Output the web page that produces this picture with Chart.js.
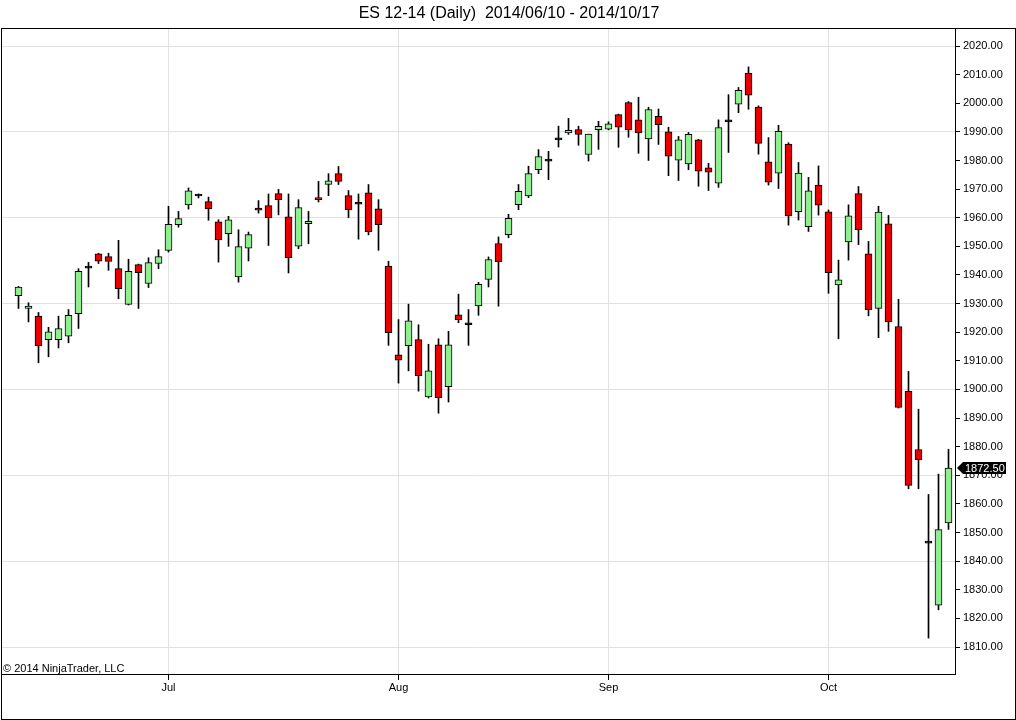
<!DOCTYPE html>
<html>
<head>
<meta charset="utf-8">
<title>ES 12-14 (Daily)</title>
<script src="https://cdn.jsdelivr.net/npm/chart.js@4/dist/chart.umd.min.js"></script>
<style>
  html, body { margin: 0; padding: 0; background: #fff; }
  #wrap { width: 1016px; height: 720px; position: relative; }
</style>
</head>
<body>
<div id="wrap"><canvas id="esChart"></canvas></div>
<script>
/* ==============================
   DATA
============================== */
const dates = [
    '06/10','06/11','06/12','06/13','06/16','06/17','06/18','06/19','06/20','06/23','06/24','06/25','06/26','06/27','06/30',
    '07/01','07/02','07/03','07/04','07/07','07/08','07/09','07/10','07/11','07/14','07/15','07/16','07/17','07/18','07/21','07/22','07/23','07/24','07/25','07/28','07/29','07/30','07/31',
    '08/01','08/04','08/05','08/06','08/07','08/08','08/11','08/12','08/13','08/14','08/15','08/18','08/19','08/20','08/21','08/22','08/25','08/26','08/27','08/28','08/29',
    '09/01','09/02','09/03','09/04','09/05','09/08','09/09','09/10','09/11','09/12','09/15','09/16','09/17','09/18','09/19','09/22','09/23','09/24','09/25','09/26','09/29','09/30',
    '10/01','10/02','10/03','10/06','10/07','10/08','10/09','10/10','10/13','10/14','10/15','10/16','10/17'
];

const opens = [
    1932.8,1928.3,1925.6,1917.4,1917.4,1918.6,1926.5,1942.4,1947.4,1946.4,1942.2,1929.7,1943.6,1937,1944,
    1948.6,1957.6,1964.5,1967.6,1965.6,1958.6,1954.4,1939.3,1949.4,1963.4,1964.2,1968.4,1960.3,1950.1,1957.9,1967,1971.6,1975.4,1967.7,1964.7,1968.7,1963.1,1943.1,
    1912.1,1915.3,1917.4,1897.4,1915.6,1901,1926.1,1922.6,1929.2,1938.4,1951,1954.1,1964.6,1967.6,1976.8,1979.8,1987.2,1989.6,1990.8,1982.1,1990.8,
    1990.9,1996,2000.2,1994.2,1987.5,1995.4,1990,1980.1,1978.8,1987.2,1977.4,1972.1,1993.5,1999.7,2010.5,1998.7,1979.5,1975.6,1985.7,1962.1,1956.9,1971.4,
    1962.1,1936.5,1951.5,1968.4,1947.4,1928.3,1957.9,1922,1899.3,1879,1846.3,1824.6,1853.4
];
const highs = [
    1936,1930.3,1926.9,1921.7,1925.6,1927.9,1942.2,1944.4,1947.6,1947.6,1952.1,1945.5,1943.8,1946,1948.8,
    1964,1962.2,1970.4,1968.3,1967.2,1959.3,1960.5,1955.8,1955,1966,1968.3,1969.9,1968.3,1966.3,1962.2,1972.7,1975.4,1977.9,1969.5,1968.3,1971.6,1966.3,1944.8,
    1924.4,1929.8,1922.6,1915.8,1917.7,1920.3,1933.3,1927.9,1937.4,1946.3,1953.3,1961.2,1971.6,1978,1983.8,1983.2,1992,1994.7,1992,1989.2,1993.7,
    1993.5,1996.2,2000.6,2002.1,1998.6,1998,1991.6,1988.4,1989.8,1987.4,1979,1994.2,2003,2005.5,2012.7,1999.1,1988,1992.3,1986.2,1979.3,1974.1,1978.1,
    1962.7,1945.2,1964.5,1970.9,1951.7,1964,1960.8,1931.5,1906.3,1893.1,1863.3,1870.4,1879.1
];
const lows = [
    1928.3,1923.6,1909.3,1911.4,1914.5,1916.3,1921.3,1935.8,1944,1941.6,1931.7,1929.5,1928.3,1935.6,1942.2,
    1948,1956.7,1963,1966.9,1959.1,1944.5,1950,1937.5,1944.9,1961.6,1950.3,1961,1940.7,1949.2,1950.9,1965.5,1967.7,1971.6,1960,1952.5,1954,1948.6,1915.4,
    1902.2,1906.5,1899.4,1897,1891.7,1895.6,1923.3,1915.4,1925.9,1935.8,1929.1,1953,1962.8,1967,1975.4,1973.3,1984.7,1989.1,1985.3,1979.8,1983.9,
    1990.7,1984.6,1988.1,1982.5,1980,1985.6,1974.7,1973,1976.8,1971,1969.5,1970.6,1982.8,1996.7,1997.9,1982.2,1971.4,1970.2,1957.4,1959.2,1955.2,1960.9,
    1933.6,1917.7,1945.2,1950.6,1925.7,1918.1,1920.3,1893.5,1865.3,1865.3,1813.1,1823,1851.1
];
const closes = [
    1935.8,1929.1,1915.2,1920.1,1921.3,1925.9,1941.3,1942.4,1944.8,1944.7,1935.2,1941.3,1940.8,1944.3,1946.4,
    1957.7,1959.7,1969.4,1967.6,1963.1,1952.2,1959.3,1949.9,1954.1,1962.6,1960,1966.3,1946,1963.5,1958.7,1966.3,1972.9,1972.7,1962.8,1964.7,1955.1,1957.6,1919.8,
    1910.2,1924,1904.8,1906.5,1897.1,1915.6,1924.3,1922.6,1936.7,1945.4,1944.6,1959.8,1969.2,1975.4,1981.4,1979.8,1987.2,1990.5,1989.1,1989.2,1991.9,
    1992.8,1991.6,1990.7,1989.6,1997.8,1992.5,1981.5,1987.2,1989.1,1976.3,1975.9,1991.5,1993.5,2004.5,2002.8,1986,1972.4,1990.2,1960.6,1975.6,1969.4,1964.4,
    1940.8,1938.3,1960.7,1955.8,1927.9,1962,1923.6,1893.7,1866.5,1875.5,1846.3,1851,1872.5
];

const monthStarts = ['07/01', '08/01', '09/01', '10/01'];
const monthLabels = ['Jul', 'Aug', 'Sep', 'Oct'];
const priceTicks = [1810,1820,1830,1840,1850,1860,1870,1880,1890,1900,1910,1920,1930,1940,1950,1960,1970,1980,1990,2000,2010,2020];

/* ==============================
   STYLE
============================== */
const UP = '#90ee90';
const DOWN = '#e80000';
const GRID = '#e1e1e1';
const FONT = '"Liberation Sans", Arial, sans-serif';

Chart.defaults.font.family = FONT;
Chart.defaults.font.size = 11;
Chart.defaults.color = '#000';

const monthIdx = monthStarts.map(d => dates.indexOf(d));

/* frame, copyright and last price marker */
const ninjaFrame = {
    id: 'ninjaFrame',
    afterDraw(chart) {
        const c = chart.ctx;
        const yScale = chart.scales.y;
        c.save();
        c.strokeStyle = '#000';
        c.lineWidth = 1;
        c.strokeRect(1.5, 28.5, 1014, 691);

        c.fillStyle = '#000';
        c.font = '11px ' + FONT;
        c.textAlign = 'left';
        c.textBaseline = 'alphabetic';
        c.fillText('\u00a9 2014 NinjaTrader, LLC', 3, 672);

        const last = closes[closes.length - 1];
        const py = Math.round(yScale.getPixelForValue(last));
        const ax = chart.chartArea.right + 2;
        c.beginPath();
        c.moveTo(ax, py);
        c.lineTo(ax + 6, py - 6);
        c.lineTo(1006, py - 6);
        c.lineTo(1006, py + 6);
        c.lineTo(ax + 6, py + 6);
        c.closePath();
        c.fillStyle = '#000';
        c.fill();
        c.fillStyle = '#fff';
        c.textBaseline = 'middle';
        c.fillText(last.toFixed(2), ax + 8, py + 0.5);
        c.restore();
    }
};

function bodyColor(i) {
    if (closes[i] > opens[i]) return UP;
    if (closes[i] < opens[i]) return DOWN;
    return '#000';
}

new Chart(document.getElementById('esChart').getContext('2d'), {
    type: 'bar',
    data: {
        datasets: [{
            label: 'Body',
            data: dates.map((d, i) => ({ x: i, y: [opens[i], closes[i]] })),
            backgroundColor: dates.map((d, i) => bodyColor(i)),
            borderColor: '#000',
            borderWidth: 1,
            borderSkipped: false,
            barThickness: 7,
            minBarLength: 2,
            grouped: false,
            order: 0
        }, {
            label: 'Range',
            data: dates.map((d, i) => ({ x: i, y: [lows[i], highs[i]] })),
            backgroundColor: '#000',
            borderWidth: 0,
            barThickness: 1,
            grouped: false,
            order: 1
        }]
    },
    options: {
        responsive: true,
        maintainAspectRatio: false,
        animation: false,
        layout: { padding: { left: 2, right: 0, top: 0, bottom: 0 } },
        plugins: {
            legend: { display: false },
            tooltip: { enabled: false },
            title: {
                display: true,
                text: 'ES 12-14 (Daily)  2014/06/10 - 2014/10/17',
                color: '#000',
                font: { family: FONT, size: 16, weight: 'normal', lineHeight: 1.2 },
                padding: { top: 4, bottom: 5.8 }
            }
        },
        scales: {
            x: {
                type: 'linear',
                position: 'bottom',
                offset: false,
                bounds: 'data',
                min: -1.65,
                max: 93.65,
                afterBuildTicks: scale => { scale.ticks = monthIdx.map(v => ({ value: v })); },
                afterFit: scale => { scale.height = 46; },
                grid: { offset: false, color: GRID, tickColor: '#000', tickLength: 6 },
                border: { display: true, color: '#000', width: 1 },
                ticks: {
                    autoSkip: false,
                    maxRotation: 0,
                    padding: 1,
                    callback: v => monthLabels[monthIdx.indexOf(v)]
                }
            },
            y: {
                type: 'linear',
                position: 'right',
                min: 1800.57,
                max: 2025.94,
                afterBuildTicks: scale => { scale.ticks = priceTicks.map(v => ({ value: v })); },
                afterFit: scale => { scale.width = 61; },
                grid: {
                    color: ctx => (ctx.tick && Math.round(ctx.tick.value - 1810) % 30 === 0) ? GRID : 'rgba(0,0,0,0)',
                    tickColor: '#000',
                    tickLength: 5
                },
                border: { display: true, color: '#000', width: 1 },
                ticks: {
                    autoSkip: false,
                    padding: 3,
                    callback: v => v.toFixed(2)
                }
            }
        }
    },
    plugins: [ninjaFrame]
});
</script>
</body>
</html>
